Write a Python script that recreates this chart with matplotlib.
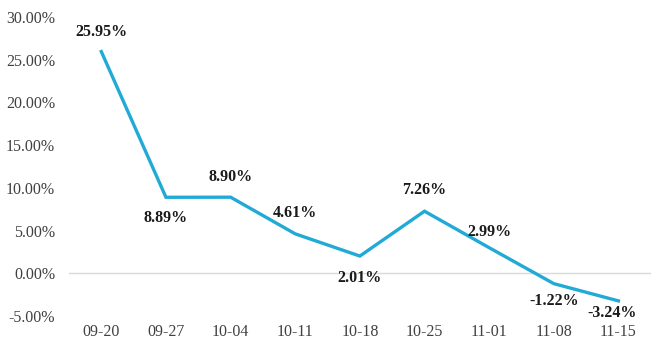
import matplotlib.pyplot as plt
from matplotlib.ticker import FuncFormatter

weeks = ['09-20', '09-27', '10-04', '10-11', '10-18', '10-25', '11-01', '11-08', '11-15']
returns = [25.95, 8.89, 8.90, 4.61, 2.01, 7.26, 2.99, -1.22, -3.24]

# label offsets (pixels) from each point: positive = above
label_offsets = [20, -21, 20, 21, -22, 21, 16, -17, -12]
label_dx = [0, 0, 0, 0, 0, 0, 0, 0, -6]

plt.rcParams['font.family'] = ['Liberation Serif', 'DejaVu Serif']

fig = plt.figure(figsize=(6.6, 3.53), dpi=100)
ax = fig.add_axes([0.1045, 0.105, 0.8815, 0.847])

x = list(range(len(weeks)))
ax.plot(x, returns, color='#22AAD6', linewidth=2.4, solid_joinstyle='miter')
ax.axhline(0, color='#D9D9D9', linewidth=1, zorder=0)

for xi, val, dy, dx in zip(x, returns, label_offsets, label_dx):
    ax.annotate(f'{val:.2f}%', (xi, val), xytext=(dx, dy), textcoords='offset pixels',
                ha='center', va='center', fontsize=11.5, fontweight='bold', color='#1A1A1A')

ax.set_xlim(-0.5, len(weeks) - 0.5)
ax.set_ylim(-5, 30)
ax.set_yticks(range(-5, 31, 5))
ax.yaxis.set_major_formatter(FuncFormatter(lambda v, p: f'{v:.2f}%'))
ax.set_xticks(x)
ax.set_xticklabels(weeks)
ax.tick_params(length=0, labelsize=11.5, labelcolor='#404040')
ax.tick_params(axis='y', pad=10)
ax.tick_params(axis='x', pad=6)
for s in ax.spines.values():
    s.set_visible(False)

fig.savefig('out.png', dpi=100)
